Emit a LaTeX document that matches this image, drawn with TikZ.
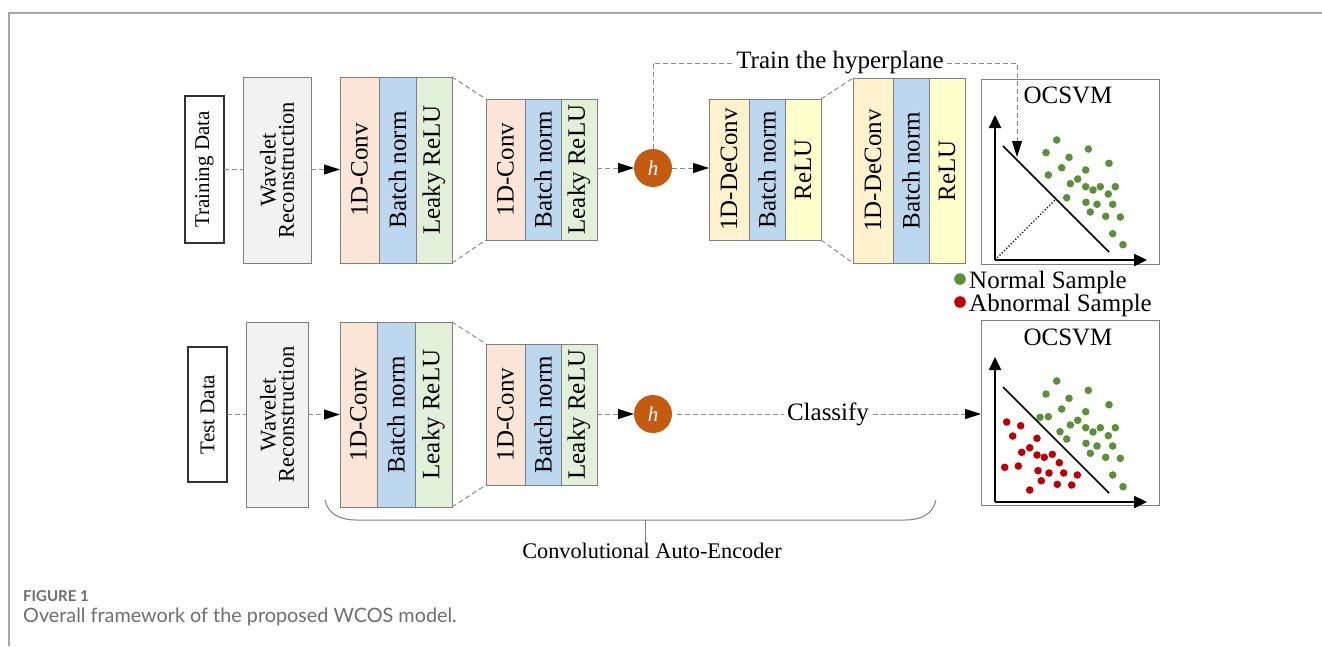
\documentclass[tikz,border=0pt]{standalone}
\usepackage{fontspec}
\setmainfont{Liberation Serif}
\newfontfamily\capfont{Lato}
\usetikzlibrary{arrows.meta,calc}

\definecolor{convc}{HTML}{FBE5D6}
\definecolor{normc}{HTML}{BDD7EE}
\definecolor{lreluc}{HTML}{E2F0D9}
\definecolor{deconvc}{HTML}{FFF2CC}
\definecolor{reluc}{HTML}{FFFFCC}
\definecolor{wavec}{HTML}{F2F2F2}
\definecolor{hc}{HTML}{C55A11}
\definecolor{edgec}{HTML}{7F7F7F}
\definecolor{dashc}{HTML}{8C8C8C}
\definecolor{dotg}{HTML}{5A9137}
\definecolor{dotr}{HTML}{C00000}
\definecolor{capgray}{HTML}{6E6E6E}
\definecolor{rulec}{HTML}{A6A6A6}

\tikzset{
  layer/.style={draw=edgec, line width=1pt, inner sep=0pt, outer sep=0pt},
  inbox/.style={draw=black!80, line width=1.4pt, fill=white, inner sep=0pt, outer sep=0pt},
  wavebox/.style={draw=edgec, line width=1pt, fill=wavec, inner sep=0pt, outer sep=0pt},
  plotbox/.style={draw=edgec, line width=1pt, fill=white, inner sep=0pt, outer sep=0pt},
  hnode/.style={circle, fill=hc, minimum size=38pt, inner sep=0pt, outer sep=0pt,
    text=white, font=\fontsize{21}{24}\selectfont\itshape},
  conn/.style={draw=dashc, line width=1pt, dash pattern=on 5pt off 3pt},
  arr/.style={conn, -{Triangle[length=16pt,width=10pt,color=black]}},
  axis/.style={draw=black, line width=2.4pt, -{Triangle[length=13pt,width=12pt]}},
  hyper/.style={draw=black, line width=1.7pt},
  brace/.style={draw=edgec, line width=1pt},
  rule/.style={draw=rulec, line width=1.5pt},
}

% one coloured layer column: name, x1, x2, y1, y2, fill, label
\newcommand\layerbox[7]{%
  \node[layer, fill=#6, minimum width={#3-#2}, minimum height={#5-#4}]
    (#1) at ({(#2+#3)/2},{(#4+#5)/2}) {\rotatebox{90}{#7}};}

\begin{document}
\begin{tikzpicture}[x=1pt, y=-1pt, font=\fontsize{25}{28}\selectfont]
\useasboundingbox (0,0) rectangle (1322,646);

% page rules
\draw[rule] (9,646) -- (9,13) -- (1322,13);

% ---------------- training branch ----------------
\node[inbox, minimum width=39, minimum height=147, font=\fontsize{21}{24}\selectfont]
  (td1) at (204.5,169.5) {\rotatebox{90}{Training Data}};
\node[wavebox, minimum width=68, minimum height=186, font=\fontsize{22.5}{24}\selectfont]
  (wr1) at (277,170) {\rotatebox{90}{\shortstack{Wavelet\\Reconstruction}}};

\layerbox{e1a}{340}{379}{77}{263}{convc}{1D-Conv}
\layerbox{e1b}{379}{416}{77}{263}{normc}{Batch norm}
\layerbox{e1c}{416}{452}{77}{263}{lreluc}{Leaky ReLU}

\layerbox{e2a}{486}{525}{99}{240}{convc}{1D-Conv}
\layerbox{e2b}{525}{561}{99}{240}{normc}{Batch norm}
\layerbox{e2c}{561}{597}{99}{240}{lreluc}{Leaky ReLU}

\node[hnode] (h1) at (653,168) {h};

\layerbox{d1a}{709}{749}{99}{240}{deconvc}{1D-DeConv}
\layerbox{d1b}{749}{785}{99}{240}{normc}{Batch norm}
\layerbox{d1c}{785}{821}{99}{240}{reluc}{ReLU}

\layerbox{d2a}{853}{893}{78}{263}{deconvc}{1D-DeConv}
\layerbox{d2b}{893}{929}{78}{263}{normc}{Batch norm}
\layerbox{d2c}{929}{965}{78}{263}{reluc}{ReLU}

\draw[conn] (td1.east) -- (td1.east -| wr1.west);
\draw[arr] (wr1.east |- td1.east) -- (td1.east -| e1a.west);
\draw[conn] (e1c.north east) -- (e2a.north west);
\draw[conn] (e1c.south east) -- (e2a.south west);
\draw[arr] (e2c.east |- h1) -- (h1.west);
\draw[arr] (h1.east) -- (h1 -| d1a.west);
\draw[conn] (d1c.north east) -- (d2a.north west);
\draw[conn] (d1c.south east) -- (d2a.south west);

% first OCSVM panel
\node[plotbox, minimum width=178, minimum height=185] (sv1) at (1070,171.5) {};
\node (sv1t) at (1068,95) {OCSVM};
\coordinate (o1) at (995,260);
\draw[axis] (o1) -- (995,115);
\draw[axis] (o1) -- (1147,260);
\draw[hyper] (1003,146) -- (1109,252);
\draw[black, line width=1.2pt, dotted] (o1) -- (1056,199);
\foreach \p in {(1056.7,140),(1046,152.7),(1088.3,149),(1069,157.3),(1061.7,167.7),
  (1085.7,170),(1109,163.3),(1048.3,175),(1077.7,179),(1070.3,183.7),(1085.7,186.7),
  (1093,190),(1100.3,186.7),(1115.3,186.7),(1066.7,197.7),(1108.3,194),(1086,202.3),
  (1097,204.3),(1112.7,204.3),(1090.3,212),(1105.7,216.3),(1120.3,217),(1112.7,233.7),
  (1123,244.7)}
  \fill[dotg] \p circle (3.8);

% hyperplane training path
\node (train) at (840,63) {Train the hyperplane};
\coordinate (hp) at (1017,157);
\draw[conn] (h1.north) |- (train.west);
\draw[arr] (train.east) -| (hp);

% legend
\fill[dotg] (960,279) circle (5.8);
\node[anchor=base west, inner sep=0pt] (lgn) at (969,288) {Normal Sample};
\fill[dotr] (960,302) circle (5.8);
\node[anchor=base west, inner sep=0pt] (lga) at (969,311) {Abnormal Sample};

% ---------------- test branch ----------------
\node[inbox, minimum width=39, minimum height=135, font=\fontsize{21}{24}\selectfont]
  (td2) at (207.5,414.5) {\rotatebox{90}{Test Data}};
\node[wavebox, minimum width=62, minimum height=185, font=\fontsize{22.5}{24}\selectfont]
  (wr2) at (277,414.5) {\rotatebox{90}{\shortstack{Wavelet\\Reconstruction}}};

\layerbox{e3a}{340}{377}{322}{507}{convc}{1D-Conv}
\layerbox{e3b}{377}{415}{322}{507}{normc}{Batch norm}
\layerbox{e3c}{415}{452}{322}{507}{lreluc}{Leaky ReLU}

\layerbox{e4a}{486}{525}{344}{485}{convc}{1D-Conv}
\layerbox{e4b}{525}{561}{344}{485}{normc}{Batch norm}
\layerbox{e4c}{561}{597}{344}{485}{lreluc}{Leaky ReLU}

\node[hnode] (h2) at (653,414) {h};

\draw[conn] (td2.east) -- (td2.east -| wr2.west);
\draw[arr] (wr2.east |- td2.east) -- (td2.east -| e3a.west);
\draw[conn] (e3c.north east) -- (e4a.north west);
\draw[conn] (e3c.south east) -- (e4a.south west);
\draw[arr] (e4c.east |- h2) -- (h2.west);

% second OCSVM panel
\node[plotbox, minimum width=178, minimum height=185] (sv2) at (1070,412.5) {};
\node (sv2t) at (1068,337) {OCSVM};
\coordinate (o2) at (995,502);
\draw[axis] (o2) -- (995,357);
\draw[axis] (o2) -- (1147,502);
\draw[hyper] (1003,387) -- (1109,493);
\foreach \p in {(1056.7,381),(1046,394),(1088.3,390.3),(1069,398.3),(1061.7,409),
  (1085.7,411.7),(1109,404.7),(1040,417.3),(1048.3,416.7),(1077.7,420.3),(1070.3,425),
  (1085.7,427.7),(1093,432),(1100.3,427.7),(1115.3,427.7),(1060,431.7),(1066.7,439),
  (1108.3,435.7),(1086,443.3),(1097,446),(1112.7,446),(1090.3,453.3),(1105.7,457.3),
  (1120.3,458.3),(1112.7,475),(1123,486.7)}
  \fill[dotg] \p circle (3.8);
\foreach \p in {(1006.7,422),(1020.7,425.7),(1012.7,436),(1037,438.3),(1029.7,447.7),
  (1021.7,452.3),(1037,455),(1052.3,454.3),(1044.3,457.3),(1059.3,462.7),(1004.7,467.3),
  (1018.3,466),(1038,470.7),(1049,473),(1063.7,473),(1077.3,475),(1041.3,480.7),
  (1057.3,484.3),(1071.7,485),(1029.7,490)}
  \fill[dotr] \p circle (3.8);

% classification path
\node (cls) at (828,414) {Classify};
\draw[conn, shorten <=5pt] (h2.east) -- (cls.west);
\draw[arr] (cls.east) -- (cls.east -| sv2.west);

% encoder brace
\draw[brace] (325,500) .. controls (328,514) and (340,520) .. (356,520)
  -- (905,520) .. controls (921,520) and (933,514) .. (936,500);
\coordinate (bt) at (645,520);
\node[anchor=base, font=\fontsize{22.3}{26}\selectfont, inner sep=0pt] (cae) at (652,558)
  {Convolutional Auto-Encoder};
\draw[brace] (bt) -- (645,542);

% caption
\node[anchor=base west, inner sep=0pt, text=capgray,
  font=\capfont\bfseries\fontsize{15}{18}\selectfont] (figlab) at (23,601) {FIGURE 1};
\node[anchor=base west, inner sep=0pt, text=capgray,
  font=\capfont\fontsize{19.8}{22}\selectfont] (cap) at (23,622)
  {Overall framework of the proposed WCOS model.};
\end{tikzpicture}
\end{document}
